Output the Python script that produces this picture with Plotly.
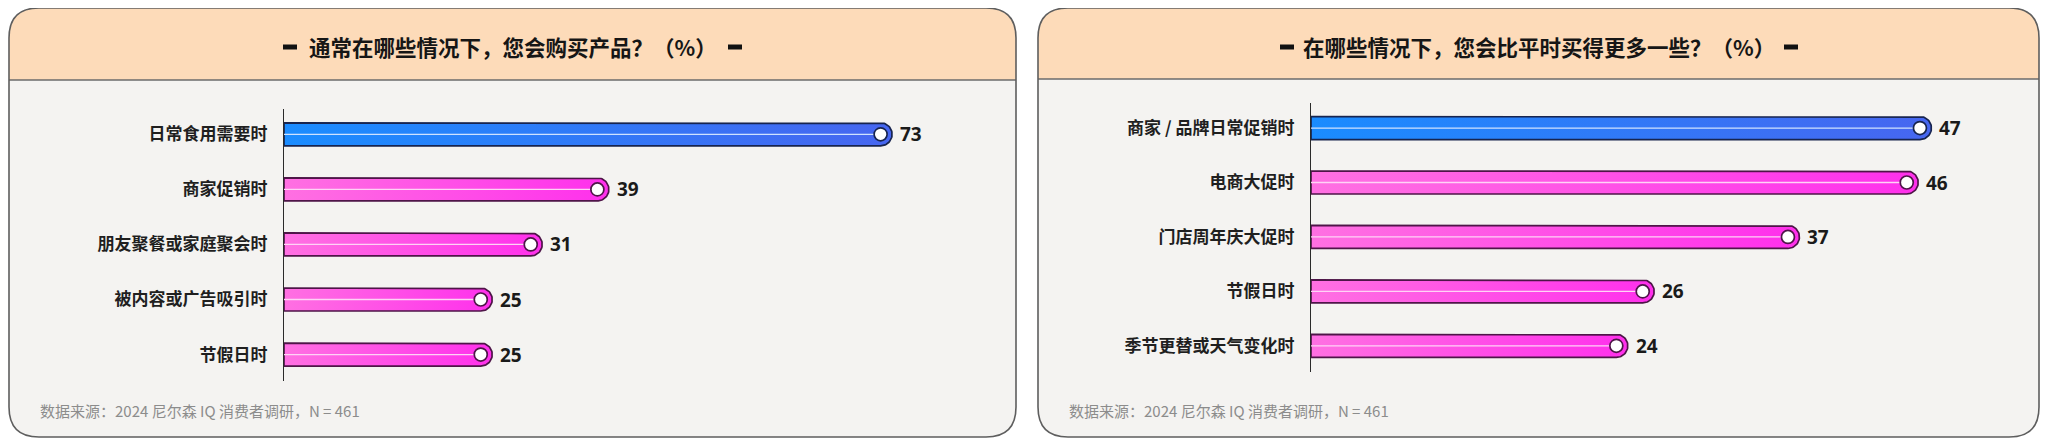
import plotly.graph_objects as go
import numpy as np

# data
q1_title = "通常在哪些情况下，您会购买产品？（%）"
q1_labels = ["日常食用需要时", "商家促销时", "朋友聚餐或家庭聚会时", "被内容或广告吸引时", "节假日时"]
q1_values = [73, 39, 31, 25, 25]

q2_title = "在哪些情况下，您会比平时买得更多一些？（%）"
q2_labels = ["商家 / 品牌日常促销时", "电商大促时", "门店周年庆大促时", "节假日时", "季节更替或天气变化时"]
q2_values = [47, 46, 37, 26, 24]

source_note = "数据来源：2024 尼尔森 IQ 消费者调研，N = 461"

# the page body has an 8px margin, so the figure is a bit smaller and shifted
OFF = 8
W, H = 2050 - OFF, 443 - OFF
FONT = "Noto Sans CJK SC"


def px(x):
    return (x - OFF) / W


def py(y):
    return 1 - (y - OFF) / H


def rounded_path(x0, y0, x1, y1, rtl, rtr, rbr, rbl):
    # pixel box -> svg path in paper coords, quadratic corners
    p = []
    p.append(f"M {px(x0 + rtl)},{py(y0)}")
    p.append(f"L {px(x1 - rtr)},{py(y0)}")
    p.append(f"Q {px(x1)},{py(y0)} {px(x1)},{py(y0 + rtr)}")
    p.append(f"L {px(x1)},{py(y1 - rbr)}")
    p.append(f"Q {px(x1)},{py(y1)} {px(x1 - rbr)},{py(y1)}")
    p.append(f"L {px(x0 + rbl)},{py(y1)}")
    p.append(f"Q {px(x0)},{py(y1)} {px(x0)},{py(y1 - rbl)}")
    p.append(f"L {px(x0)},{py(y0 + rtl)}")
    p.append(f"Q {px(x0)},{py(y0)} {px(x0 + rtl)},{py(y0)}")
    return " ".join(p) + " Z"


# panel geometry in (window) pixels
panels = [
    dict(title=q1_title, labels=q1_labels, values=q1_values, xa="x", ya="y",
         box=(9, 8, 1016, 437), head=80, axis_x=284, plot_r=990, xmax=84.75,
         y_top=109, y_bot=381, dash=(283, 728), note_x=38),
    dict(title=q2_title, labels=q2_labels, values=q2_values, xa="x2", ya="y2",
         box=(1038, 8, 2039, 437), head=79, axis_x=1311, plot_r=2010, xmax=52.95,
         y_top=103, y_bot=372, dash=(1280, 1784), note_x=1067),
]

Y_RANGE = [4.48, -0.46]
BAR_PX = 23
blue_scale = [[0, "#1a8cff"], [1, "#4766f0"]]
pink_scale = [[0, "#ff70e2"], [1, "#ff30ec"]]

fig = go.Figure()
shapes = []
annotations = []
theta = np.linspace(-np.pi / 2, np.pi / 2, 40)

for k, pn in enumerate(panels):
    x0, y0, x1, y1 = pn["box"]
    r = 30
    # body + header
    shapes.append(dict(type="path", xref="paper", yref="paper", layer="below",
                       path=rounded_path(x0, y0, x1, y1, r, r, r, r),
                       fillcolor="#f4f3f1", line=dict(width=0)))
    shapes.append(dict(type="path", xref="paper", yref="paper", layer="below",
                       path=rounded_path(x0, y0, x1, pn["head"], r, r, 0, 0),
                       fillcolor="#fddbb9", line=dict(width=0)))
    shapes.append(dict(type="line", xref="paper", yref="paper", layer="below",
                       x0=px(x0), x1=px(x1), y0=py(pn["head"]), y1=py(pn["head"]),
                       line=dict(color="#6b6b6b", width=1.3)))
    shapes.append(dict(type="path", xref="paper", yref="paper", layer="below",
                       path=rounded_path(x0, y0, x1, y1, r, r, r, r),
                       fillcolor="rgba(0,0,0,0)", line=dict(color="#5e5e5e", width=1.6)))
    # title dashes
    for dx in pn["dash"]:
        shapes.append(dict(type="rect", xref="paper", yref="paper", layer="above",
                           x0=px(dx), x1=px(dx + 14), y0=py(49.5), y1=py(44.5),
                           fillcolor="#111111", line=dict(width=0)))
    annotations.append(dict(xref="paper", yref="paper", x=px((x0 + x1) / 2), y=py(46),
                            text=pn["title"], showarrow=False, xanchor="center", yanchor="middle",
                            font=dict(family=FONT, size=21.5, color="#161616", weight="bold")))
    annotations.append(dict(xref="paper", yref="paper", x=px(pn["note_x"]), y=py(410),
                            text=source_note, showarrow=False, xanchor="left", yanchor="middle",
                            font=dict(family=FONT, size=15, color="#8c8c8c")))

    # scale conversions for the rounded end caps
    ppu_x = (pn["plot_r"] - pn["axis_x"]) / pn["xmax"]
    ppu_y = (pn["y_bot"] - pn["y_top"]) / (Y_RANGE[0] - Y_RANGE[1])
    rx = (BAR_PX / 2) / ppu_x
    hy = (BAR_PX / 2) / ppu_y

    for i, v in enumerate(pn["values"]):
        first = i == 0
        scale = blue_scale if first else pink_scale
        edge = "#17244f" if first else "#4e1548"
        mid = "#cfe2ff" if first else "#ffd3f6"
        cx = v - rx
        xs = [0, cx] + list(cx + rx * np.cos(theta)) + [0, 0]
        ys = [i - hy, i - hy] + list(i + hy * np.sin(theta)) + [i + hy, i - hy]
        fig.add_trace(go.Scatter(
            x=xs, y=ys, xaxis=pn["xa"], yaxis=pn["ya"], mode="lines",
            fill="toself", fillgradient=dict(type="horizontal", colorscale=scale),
            line=dict(color=edge, width=1.7), hoverinfo="skip", showlegend=False))
        fig.add_trace(go.Scatter(
            x=[0, cx], y=[i, i], xaxis=pn["xa"], yaxis=pn["ya"], mode="lines",
            line=dict(color=mid, width=1.3), hoverinfo="skip", showlegend=False))
        fig.add_trace(go.Scatter(
            x=[cx], y=[i], xaxis=pn["xa"], yaxis=pn["ya"], mode="markers",
            marker=dict(size=13, color="white", line=dict(color=edge, width=1.7)),
            hoverinfo="skip", showlegend=False))
        annotations.append(dict(xref=pn["xa"], yref=pn["ya"], x=v, y=i, text=str(v),
                                showarrow=False, xanchor="left", yanchor="middle", xshift=6,
                                font=dict(family="Noto Sans", size=19, color="#1a1a1a", weight="bold")))

ax_common = dict(showgrid=False, zeroline=False, showticklabels=False, fixedrange=True)
y_common = dict(showgrid=False, zeroline=False, range=Y_RANGE, showline=True,
                linecolor="#2a2a2a", linewidth=1.4, ticks="", ticklabelstandoff=12,
                tickfont=dict(family=FONT, size=17, color="#1f1f1f", weight="bold"))

p1, p2 = panels
fig.update_layout(
    width=W, height=H,
    margin=dict(l=0, r=0, t=0, b=0),
    paper_bgcolor="white", plot_bgcolor="rgba(0,0,0,0)",
    xaxis=dict(domain=[px(p1["axis_x"]), px(p1["plot_r"])], range=[0, p1["xmax"]], anchor="y", **ax_common),
    yaxis=dict(domain=[py(p1["y_bot"]), py(p1["y_top"])], anchor="x",
               tickvals=list(range(len(q1_labels))), ticktext=q1_labels, **y_common),
    xaxis2=dict(domain=[px(p2["axis_x"]), px(p2["plot_r"])], range=[0, p2["xmax"]], anchor="y2", **ax_common),
    yaxis2=dict(domain=[py(p2["y_bot"]), py(p2["y_top"])], anchor="x2",
                tickvals=list(range(len(q2_labels))), ticktext=q2_labels, **y_common),
    shapes=shapes,
    annotations=annotations,
    showlegend=False,
)

fig.write_html("out.html")
